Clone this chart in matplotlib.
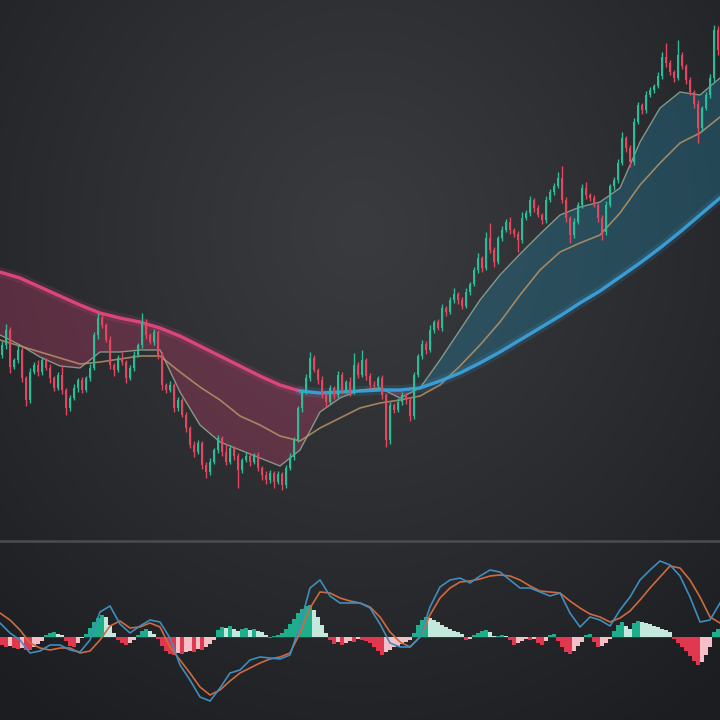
import numpy as np
import matplotlib
matplotlib.use("Agg")
import matplotlib.pyplot as plt

# ---------------- data ----------------
first_open = 365
closes = [375, 390, 353, 360, 370, 342, 320, 348, 355, 348,
          360, 352, 342, 332, 345, 330, 312, 322, 332, 340,
          330, 342, 352, 385, 402, 395, 380, 355, 350, 362,
          358, 342, 352, 365, 375, 398, 385, 378, 388, 365,
          335, 330, 335, 312, 320, 305, 292, 275, 268, 277,
          255, 248, 258, 270, 282, 268, 258, 272, 264, 250,
          260, 264, 258, 265, 252, 245, 240, 247, 238, 246,
          235, 252, 263, 280, 312, 328, 342, 362, 350, 340,
          325, 318, 332, 325, 345, 330, 338, 328, 355, 345,
          360, 344, 335, 334, 342, 325, 280, 315, 310, 318,
          325, 320, 304, 345, 364, 376, 370, 390, 398, 392,
          412, 408, 420, 426, 420, 414, 428, 436, 450, 462,
          452, 482, 470, 458, 482, 490, 498, 490, 486, 480,
          502, 507, 520, 512, 505, 500, 520, 528, 534, 542,
          520, 502, 485, 498, 515, 532, 525, 522, 515, 502,
          488, 515, 534, 540, 557, 582, 572, 558, 598, 615,
          610, 625, 630, 634, 644, 663, 657, 648, 642, 665,
          654, 640, 628, 616, 592, 612, 625, 642, 690, 670]

upper_wick = [4, 6, 3, 2, 5, 3, 2, 4, 3, 5,
              3, 2, 4, 2, 3, 10, 2, 3, 4, 2,
              3, 2, 4, 3, 5, 3, 2, 4, 2, 3,
              6, 2, 3, 4, 2, 9, 3, 2, 3, 2,
              3, 2, 4, 2, 3, 2, 3, 2, 4, 3,
              2, 3, 4, 2, 3, 2, 8, 3, 2, 3,
              2, 4, 3, 2, 3, 2, 4, 3, 2, 3,
              2, 3, 4, 3, 2, 3, 4, 6, 3, 2,
              4, 2, 3, 2, 4, 3, 2, 5, 12, 3,
              10, 2, 3, 4, 2, 3, 2, 3, 2, 4,
              3, 2, 3, 3, 2, 4, 3, 5, 2, 3,
              4, 2, 3, 6, 2, 3, 4, 2, 3, 5,
              2, 6, 15, 3, 2, 4, 3, 5, 2, 3,
              6, 3, 4, 2, 3, 2, 4, 3, 3, 6,
              12, 3, 2, 4, 3, 4, 6, 2, 3, 2,
              3, 4, 2, 3, 4, 6, 2, 3, 4, 3,
              2, 4, 3, 2, 4, 5, 14, 3, 2, 15,
              3, 2, 3, 2, 4, 2, 3, 4, 5, 4]

lower_wick = [3, 4, 6, 2, 3, 4, 6, 3, 2, 4,
              3, 2, 5, 3, 2, 4, 7, 3, 2, 4,
              3, 2, 3, 2, 4, 3, 2, 4, 6, 2,
              3, 5, 2, 3, 2, 3, 4, 2, 3, 4,
              5, 3, 2, 4, 3, 2, 4, 3, 5, 2,
              4, 6, 3, 2, 3, 4, 3, 2, 4, 18,
              3, 2, 4, 2, 3, 5, 4, 3, 6, 2,
              5, 3, 2, 3, 2, 4, 2, 3, 2, 4,
              3, 5, 2, 4, 3, 2, 3, 4, 2, 3,
              2, 4, 3, 2, 3, 4, 7, 4, 3, 2,
              3, 4, 5, 3, 2, 3, 4, 2, 3, 2,
              3, 4, 2, 3, 4, 3, 2, 3, 2, 3,
              4, 2, 3, 5, 2, 3, 2, 4, 3, 12,
              3, 2, 3, 4, 2, 4, 3, 2, 3, 2,
              3, 4, 8, 3, 2, 3, 4, 3, 2, 4,
              8, 3, 2, 4, 3, 2, 4, 5, 3, 2,
              4, 3, 2, 3, 2, 3, 4, 3, 4, 2,
              3, 4, 3, 4, 15, 3, 2, 3, 4, 5]

# moving averages, one reading every 5 candles
ribbon_slow = [448, 442, 433, 424, 415, 407, 402, 398, 392, 384,
               374, 364, 354, 344, 335, 329, 327, 328, 329, 330,
               330, 332, 339, 347, 357, 368, 380, 392, 404, 417,
               429, 443, 457, 472, 488, 505, 522]
ribbon_fast = [385, 375, 363, 354, 352, 368, 368, 370, 370, 328,
               295, 278, 270, 262, 254, 270, 308, 322, 330, 332,
               322, 332, 360, 390, 420, 445, 466, 486, 505, 513,
               518, 532, 578, 612, 628, 625, 642]
ema_mid = [380, 374, 368, 362, 356, 358, 361, 364, 364, 348,
           333, 320, 304, 295, 284, 279, 292, 302, 312, 317,
           320, 324, 335, 354, 375, 398, 425, 450, 468, 477,
           485, 507, 535, 557, 577, 587, 603]

# MACD lines, one reading every 2.5 candles
macd_line = [14, 4, -3, -16, -14, -8, -8, -13, -15, -3,
             25, 31, 13, 4, 11, 17, 15, -1, -28, -43,
             -60, -64, -51, -36, -33, -23, -20, -21, -22, -18,
             12, 49, 57, 41, 34, 34, 34, 29, 13, -6,
             -10, -10, 0, 30, 50, 57, 59, 54, 61, 67,
             65, 57, 49, 49, 45, 41, 44, 24, 10, 20,
             17, 11, 27, 40, 57, 67, 76, 72, 61, 40,
             15, 17, 34]
signal_line = [24, 17, 7, -6, -11, -13, -11, -11, -16, -14,
               -3, 11, 16, 9, 10, 14, 10, -10, -23, -36,
               -50, -58, -53, -44, -36, -31, -26, -22, -20, -16,
               4, 29, 45, 44, 39, 36, 34, 30, 20, 5,
               -5, -10, 0, 22, 39, 49, 55, 56, 58, 61,
               62, 61, 57, 51, 46, 45, 44, 36, 29, 23,
               20, 15, 19, 26, 37, 49, 60, 71, 69, 57,
               40, 20, 14]
macd_hist = [-8, -10, -9, -11, -12, -11, -13, -13, -10, -7,
             -4, 2, 4, 5, 3, 2, -4, -9, -10, -6,
             -1, 3, 9, 15, 19, 22, 20, 12, 4, -3,
             -6, -8, -6, -3, 2, 6, 8, 6, 3, -2,
             -9, -14, -17, -18, -16, -17, -15, -14, -15, -12,
             -13, -10, -7, -3, 7, 10, 9, 11, 8, 6,
             8, 9, 7, 8, 6, 5, 2, -1, 1, 2,
             4, 8, 13, 18, 24, 28, 31, 32, 27, 20,
             12, 4, -3, -7, -5, -8, -6, -4, -5, -2,
             -3, -4, -6, -10, -14, -18, -15, -13, -10, -9,
             -7, -5, -3, 4, 12, 17, 20, 19, 17, 15,
             12, 10, 8, 6, 5, 3, -3, -2, 2, 4,
             6, 7, 5, 1, 1, 2, 1, -3, -8, -6,
             -4, -2, -3, -2, -6, -8, -4, 2, 3, -4,
             -10, -15, -17, -14, -9, -5, 2, 3, -5, -10,
             -9, -6, -2, 6, 12, 15, 11, 8, 14, 16,
             15, 14, 13, 11, 10, 8, 7, 5, -2, -6,
             -10, -14, -19, -24, -28, -25, -18, -10, 5, 8]

# ---------------- figure ----------------
UP = '#2bbd98'
DOWN = '#e5465e'
PINK = '#e2477f'
BLUE = '#3aa2dc'

fig = plt.figure(figsize=(7.2, 7.2), dpi=100)

# background gradient
bg = fig.add_axes([0, 0, 1, 1])
H = W = 720
yy, xx = np.mgrid[0:H, 0:W]
d = np.sqrt(((xx - 360) / 560.0) ** 2 + ((yy - 230) / 600.0) ** 2)
t = np.clip(d, 0, 1)[..., None] ** 1.1
c0 = np.array([0x3a, 0x3b, 0x3e]) / 255.0
c1 = np.array([0x1c, 0x1d, 0x20]) / 255.0
img = c0 * (1 - t) + c1 * t
bg.imshow(img, extent=[0, 720, 720, 0], aspect='auto', interpolation='bilinear')
bg.set_xlim(0, 720)
bg.set_ylim(720, 0)
bg.axhline(541, color='#4c4d51', lw=1.8)
bg.axis('off')

n = len(closes)
idx = np.arange(n)
c = np.array(closes, dtype=float)
o = np.r_[first_open, c[:-1]]
hi = np.maximum(o, c) + np.array(upper_wick)
lo = np.minimum(o, c) - np.array(lower_wick)
up = c >= o
cols = np.where(up, UP, DOWN)

ax = fig.add_axes([0, 0.25, 1, 0.75])
ax.patch.set_alpha(0)
ax.set_xlim(-0.5, n - 0.5)
ax.set_ylim(180, 720)
ax.axis('off')

g20 = np.arange(len(ribbon_slow)) * 5 - 0.5
slow = np.array(ribbon_slow, dtype=float)
fast = np.array(ribbon_fast, dtype=float)
mid = np.array(ema_mid, dtype=float)

ax.fill_between(g20, slow, fast, where=fast <= slow, interpolate=True,
                color='#c23d6c', alpha=0.33, lw=0, zorder=1)
ax.fill_between(g20, slow, fast, where=fast >= slow, interpolate=True,
                color='#2088ad', alpha=0.33, lw=0, zorder=1)

ax.plot(g20, fast, color='#9cb8a2', lw=1.0, alpha=0.75, zorder=2)
ax.plot(g20, mid, color='#c09868', lw=1.2, alpha=0.8, zorder=2)

split = 15
for seg, col in ((slice(0, split + 1), PINK), (slice(split, None), BLUE)):
    ax.plot(g20[seg], slow[seg], color=col, lw=7, alpha=0.15, zorder=3,
            solid_capstyle='round')
    ax.plot(g20[seg], slow[seg], color=col, lw=2.4, alpha=0.95, zorder=3,
            solid_capstyle='round')

ax.vlines(idx, lo, hi, colors=cols, lw=1.0, zorder=4)
ax.bar(idx, np.maximum(np.abs(c - o), 1.0), bottom=np.minimum(o, c),
       width=0.62, color=cols, lw=0, zorder=5)

# ---------------- MACD ----------------
mx = fig.add_axes([0, 0, 1, 179 / 720])
mx.patch.set_alpha(0)
mx.set_xlim(-0.5, n - 0.5)
mx.set_ylim(-83, 96)
mx.axis('off')

h = np.array(macd_hist, dtype=float)
prev = np.r_[0, h[:-1]]
hcols = []
for v, p in zip(h, prev):
    growing = abs(v) >= abs(p) and np.sign(v) == np.sign(p) or np.sign(v) != np.sign(p)
    if v >= 0:
        hcols.append('#1fae8c' if growing else '#c4e8dc')
    else:
        hcols.append('#e0384f' if growing else '#f3c0c8')
mx.bar(idx, h, width=0.85, color=hcols, lw=0, zorder=2)
mx.axhline(0, color='#555', lw=0.6, alpha=0.5, zorder=1)

g10 = np.arange(len(macd_line)) * 2.5 - 0.5
mx.plot(g10, signal_line, color='#cf6a3f', lw=1.2, zorder=3)
mx.plot(g10, macd_line, color='#3f8dbd', lw=1.2, zorder=3)

fig.savefig('out.png', dpi=100)
